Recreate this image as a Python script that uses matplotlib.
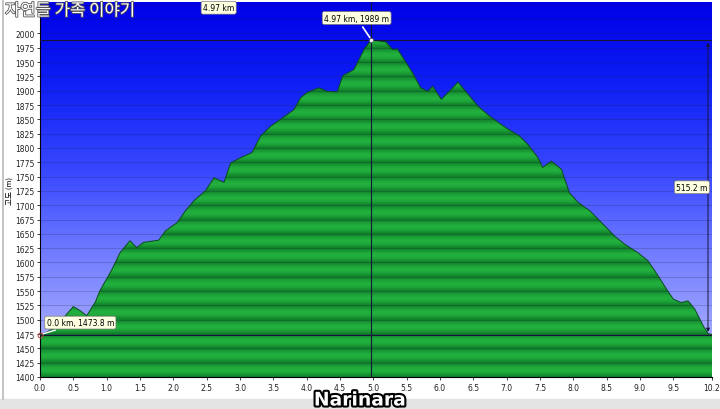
import matplotlib
matplotlib.use('Agg')
import matplotlib.pyplot as plt
import matplotlib.patheffects as pe
from matplotlib.colors import LinearSegmentedColormap
import numpy as np

plt.rcParams['font.family'] = ['DejaVu Sans', 'Noto Sans CJK KR']

# 거리(km) / 고도(m) - 그래프에서 읽은 값
dist_km = [0.00, 0.10, 0.20, 0.35, 0.50, 0.60, 0.70, 0.83, 0.90, 1.08, 1.20, 1.35, 1.45,
           1.55, 1.78, 1.88, 2.06, 2.18, 2.31, 2.48, 2.61, 2.76, 2.86, 3.01, 3.18,
           3.31, 3.46, 3.68, 3.81, 3.91, 4.01, 4.18, 4.31, 4.46, 4.54, 4.71, 4.86,
           4.97, 5.19, 5.29, 5.36, 5.46, 5.59, 5.71, 5.82, 5.89, 6.02, 6.14, 6.27,
           6.42, 6.57, 6.74, 6.92, 7.02, 7.19, 7.32, 7.47, 7.54, 7.67, 7.82, 7.94,
           8.07, 8.25, 8.42, 8.62, 8.77, 8.97, 9.12, 9.27, 9.40, 9.50, 9.62, 9.72,
           9.82, 9.95, 10.02, 10.08]
elev_m = [1473.8, 1478, 1485, 1503, 1523, 1516, 1507, 1531, 1551, 1588, 1617, 1638, 1626,
          1635, 1639, 1655, 1670, 1690, 1708, 1725, 1748, 1740, 1774, 1783, 1792,
          1821, 1838, 1856, 1867, 1888, 1897, 1905, 1899, 1898, 1926, 1937, 1972,
          1989, 1985, 1972, 1973, 1955, 1931, 1905, 1899, 1908, 1885, 1899, 1915,
          1894, 1873, 1856, 1841, 1833, 1821, 1806, 1783, 1766, 1777, 1763, 1722,
          1705, 1690, 1670, 1646, 1632, 1617, 1603, 1577, 1553, 1536, 1530, 1533,
          1519, 1489, 1476, 1474]

start_km, start_elev = 0.0, 1473.8
peak_km, peak_elev = 4.97, 1989
climb_m = 515.2
end_km = 10.08
x_ticks = [0.0, 0.5, 1.0, 1.5, 2.0, 2.5, 3.0, 3.5, 4.0, 4.5, 5.0, 5.5, 6.0, 6.5,
           7.0, 7.5, 8.0, 8.5, 9.0, 9.5, end_km]
x_labels = ['0.0', '0.5', '1.0', '1.5', '2.0', '2.5', '3.0', '3.5', '4.0', '4.5', '5.0',
            '5.5', '6.0', '6.5', '7.0', '7.5', '8.0', '8.5', '9.0', '9.5', '10.2']
y_ticks = list(range(1400, 2001, 25))
y_min, y_max = 1400, 2055

fig = plt.figure(figsize=(7.2, 4.1), dpi=100, facecolor='white')
ax = fig.add_axes([40 / 720, 1 - 378 / 410, 672 / 720, 375 / 410])
ax.set_xlim(0, end_km)
ax.set_ylim(y_min, y_max)

# 하늘 배경 (그라데이션)
sky = LinearSegmentedColormap.from_list('sky', [
    (0.0, '#b0b5ff'), (0.12, '#a0a6ff'), (0.3, '#7882ff'),
    (0.55, '#3848ff'), (0.8, '#0c1cf4'), (1.0, '#0000e8')])
grad = np.linspace(0, 1, 256).reshape(-1, 1)
ax.imshow(grad, extent=[0, end_km, y_min, y_max], origin='lower', aspect='auto',
          cmap=sky, zorder=0)

# 산 (줄무늬 녹색)
yy = np.linspace(y_min, y_max, 1200)
phase = ((yy - y_min) % 25) / 25
b = (0.5 - 0.5 * np.cos(2 * np.pi * phase)) ** 0.6
dark = np.array([0x10, 0x80, 0x2a]) / 255
light = np.array([0x22, 0xb0, 0x3e]) / 255
stripes = dark[None, :] + (light - dark)[None, :] * b[:, None]
stripes = np.repeat(stripes[:, None, :], 2, axis=1)
poly = ax.fill_between(dist_km, elev_m, y_min, color='none', lw=0)
img = ax.imshow(stripes, extent=[0, end_km, y_min, y_max], origin='lower',
                aspect='auto', zorder=1)
img.set_clip_path(poly.get_paths()[0], transform=ax.transData)
ax.plot(dist_km, elev_m, color='#0d4a1e', lw=0.7, zorder=3)

for y in range(1400, 2051, 25):
    ax.axhline(y, color='#1a1a3a', lw=0.5, alpha=0.3, zorder=2)

# 기준선
ax.axhline(peak_elev, color='#15153a', lw=0.8, zorder=4)
ax.axhline(start_elev, color='#15153a', lw=0.8, zorder=4)
ax.axvline(peak_km, color='#15153a', lw=0.8, zorder=4)
ax.annotate('', xy=(10.02, peak_elev), xytext=(10.02, start_elev),
            arrowprops=dict(arrowstyle='<|-|>', color='#15153a', lw=0.7,
                            mutation_scale=5), zorder=5)

box = dict(boxstyle='round,pad=0.25', fc='#ffffe1', ec='#7a7a7a', lw=0.5)
ax.text(9.78, (peak_elev + start_elev) / 2, f'{climb_m} m', fontsize=5.5,
        ha='center', va='center', bbox=box, zorder=6)
ax.annotate(f'{peak_km} km, {peak_elev} m', xy=(peak_km, peak_elev),
            xytext=(peak_km - 0.22, 2027), fontsize=5.5, ha='center', va='center',
            bbox=box, zorder=6,
            arrowprops=dict(arrowstyle='-', color='white', lw=1.2))
ax.text(2.68, 2045, f'{peak_km} km', fontsize=5.5, ha='center', va='center',
        bbox=box, zorder=6)
ax.annotate(f'{start_km} km, {start_elev} m', xy=(start_km, start_elev),
            xytext=(0.1, 1495), fontsize=5.5, ha='left', va='center', bbox=box,
            zorder=6, arrowprops=dict(arrowstyle='-', color='white', lw=1.0))
ax.plot([peak_km], [peak_elev], 'o', ms=3, mfc='white', mec='#556',
        mew=0.6, zorder=7, clip_on=False)
ax.plot([start_km], [start_elev], 'o', ms=3.5, mfc='none', mec='#c04040',
        mew=0.7, zorder=7, clip_on=False)

ax.set_xticks(x_ticks)
ax.set_xticklabels(x_labels)
ax.set_yticks(y_ticks)
ax.tick_params(labelsize=5.5, length=2.5, width=0.6, pad=1.5, colors='#222')
for s in ['top', 'right']:
    ax.spines[s].set_visible(False)
ax.spines['left'].set_linewidth(0.8)
ax.spines['bottom'].set_linewidth(0.8)
ax.set_ylabel('고도 (m)', fontsize=5.5,
              fontfamily=['Noto Sans CJK KR', 'DejaVu Sans'])
ax.yaxis.set_label_coords(-25 / 672, 0.5)

# 테두리
fig.patches.append(plt.Rectangle((0, 0), 1, 10 / 410, transform=fig.transFigure,
                                 color='#e4e4e4', zorder=-1))
fig.add_artist(plt.Line2D([3 / 720, 3 / 720], [10 / 410, 1], color='#b8b8b8', lw=1.2))

# 워터마크
fig.text(5 / 720, 1 - 12 / 410, '자연들 가족 이야기', fontsize=12, color='white',
         ha='left', va='center', fontfamily=['Noto Sans CJK KR', 'DejaVu Sans'],
         zorder=10, path_effects=[pe.withStroke(linewidth=1.2, foreground='#555555')])
fig.text(360 / 720, 1 - 401 / 410, 'Narinara', fontsize=13.5, fontweight='heavy',
         color='white', ha='center', va='center', zorder=10,
         path_effects=[pe.withStroke(linewidth=3, foreground='black')])

fig.savefig('out.png', dpi=100, facecolor='white')
